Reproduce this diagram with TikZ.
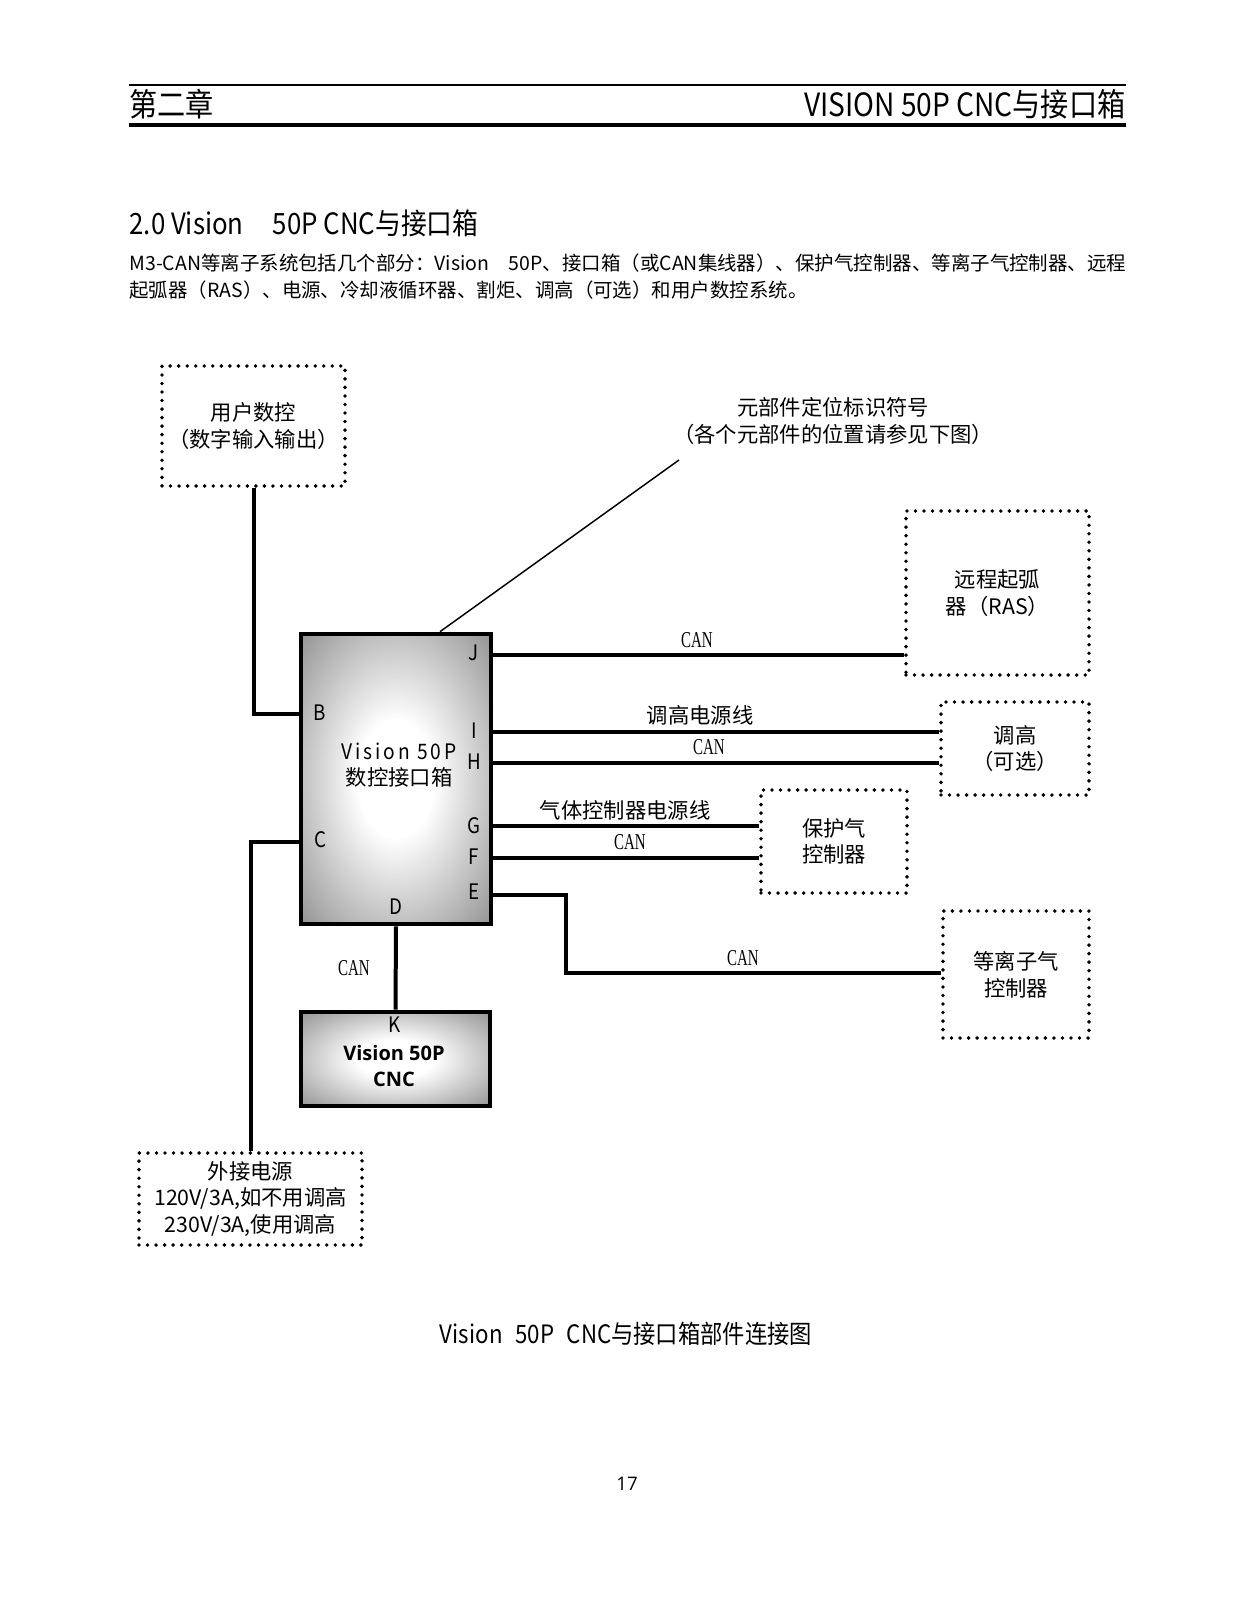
\documentclass[tikz,border=0pt]{standalone}
\usepackage{fontspec}
\setmainfont{Noto Sans CJK SC}
\newfontfamily\condf[FakeStretch=0.88]{Noto Sans CJK SC}
\newfontfamily\trackf[FakeStretch=0.9,LetterSpace=14]{Noto Sans CJK SC}
\newfontfamily\serifc[FakeStretch=0.66]{Liberation Serif}
\newfontfamily\boldsans{Open Sans}
\pgfdeclareradialshading{boxglow}{\pgfpoint{0bp}{0bp}}{color(0bp)=(white); color(10bp)=(white); color(50bp)=(black!66); color(71bp)=(black!95)}

\tikzset{every picture/.style={line width=0.75pt}}
\tikzset{
  wire/.style={line width=3pt},
  leader/.style={line width=1.1pt},
  dotbox/.style={draw, line width=2.9pt, line cap=round, dash pattern=on 0pt off 6.4pt, align=center, inner sep=0pt, font=\fontsize{16}{20}\selectfont},
  unitbox/.style={draw, line width=3.5pt, shade, shading=boxglow, inner sep=0pt},
  port/.style={inner sep=0.75pt, font=\condf\fontsize{16}{18}\selectfont},
  canlbl/.style={inner sep=0.75pt, font=\serifc\fontsize{17}{20}\selectfont},
  wirelbl/.style={inner sep=0.75pt, font=\fontsize{16}{20}\selectfont},
}

\begin{document}
\begin{tikzpicture}[x=0.75pt,y=0.75pt,yscale=-1,xscale=1]
\useasboundingbox (0,0) rectangle (1237,1600);
% Page head
\draw[line width=2pt] (129,85) -- (1126,85) ;
\draw[line width=2.4pt] (129,125) -- (1126,125) ;
\node (chap) [anchor=west, inner sep=0pt, font=\condf\fontsize{24}{26}\selectfont] at (129,104) {第二章};
\node (head) [anchor=east, inner sep=0pt, font=\condf\fontsize{24}{26}\selectfont] at (1126,104) {VISION 50P CNC与接口箱};
% Section text
\node (sect) [anchor=west, inner sep=0pt, font=\condf\fontsize{22}{24}\selectfont] at (129,223) {2.0 Vision\quad 50P CNC与接口箱};
\node (para1) [anchor=west, inner sep=0pt, font=\fontsize{14.6}{18}\selectfont] at (129,263) {M3-CAN等离子系统包括几个部分：Vision\quad 50P、接口箱（或CAN集线器）、保护气控制器、等离子气控制器、远程};
\node (para2) [anchor=west, inner sep=0pt, font=\fontsize{14.6}{18}\selectfont] at (129,290) {起弧器（RAS）、电源、冷却液循环器、割炬、调高（可选）和用户数控系统。};

%Shape: Interface box
\node (ibox) [unitbox, minimum width=142.5pt, minimum height=217.5pt] at (396,779) {};
%Shape: CNC box
\node (cnc) [unitbox, minimum width=141.75pt, minimum height=70.5pt] at (395.5,1059) {};
%Shape: Dotted boxes
\node (ucnc) [dotbox, minimum width=137.25pt, minimum height=90pt] at (253.5,426) {用户数控\\（数字输入输出）};
\node (ras) [dotbox, minimum width=137.25pt, minimum height=123pt] at (997.5,593) {远程起弧\\器（RAS）};
\node (thc) [dotbox, minimum width=111pt, minimum height=69.75pt] at (1015,748.5) {调高\\（可选）};
\node (sgc) [dotbox, minimum width=109.5pt, minimum height=77.25pt] at (834,841.5) {保护气\\控制器};
\node (pgc) [dotbox, minimum width=109.5pt, minimum height=95.25pt] at (1016,974.5) {等离子气\\控制器};
\node (pwr) [dotbox, minimum width=167.25pt, minimum height=69pt] at (250.5,1199) {外接电源\\120V/3A,如不用调高\\230V/3A,使用调高};

% Text Node
\node (ititle) [inner sep=0.75pt, align=center, font=\fontsize{16}{20}\selectfont] at (399,765) {{\trackf Vision 50P}\\数控接口箱};
% Text Node
\node (ctitle) [inner sep=0.75pt, align=center, font=\boldsans\bfseries\fontsize{15}{20}\selectfont] at (394,1066) {Vision 50P\\CNC};
% Text Node
\node (lJ) [port] at (474,653) {J};
\node (lI) [port] at (474,731) {I};
\node (lH) [port] at (474,762) {H};
\node (lG) [port] at (474,826) {G};
\node (lF) [port] at (474,857) {F};
\node (lE) [port] at (474,892) {E};
\node (lB) [port] at (320,713) {B};
\node (lC) [port] at (320,840) {C};
\node (lD) [port] at (396,907) {D};
\node (lK) [port] at (395,1025) {K};

% Ports
\coordinate (pJ) at (ibox.east |- 0,655);
\coordinate (pI) at (ibox.east |- 0,732);
\coordinate (pH) at (ibox.east |- 0,763);
\coordinate (pG) at (ibox.east |- 0,826);
\coordinate (pF) at (ibox.east |- 0,858);
\coordinate (pE) at (ibox.east |- 0,895);
\coordinate (pB) at (ibox.west |- 0,714);
\coordinate (pC) at (ibox.west |- 0,842);
\coordinate (eBend) at (566,973);
\coordinate (ldr) at (679,460);

%Straight Lines
\draw[wire] (ucnc.south) |- (pB) ;
\draw[wire] (pC) -| (pwr.north) ;
\draw[wire] (pJ) -- (ras.west |- pJ) ;
\draw[wire] (pI) -- (thc.west |- pI) ;
\draw[wire] (pH) -- (thc.west |- pH) ;
\draw[wire] (pG) -- (sgc.west |- pG) ;
\draw[wire] (pF) -- (sgc.west |- pF) ;
\draw[wire] (pE) -| (eBend) -- (pgc.west |- eBend) ;
\draw[wire] (ibox.south) -- (cnc.north) ;
\draw[leader] (ibox.north) ++(44,0) -- (ldr) ;

% Text Node
\node (cJ) [canlbl] at (697,640) {CAN};
\node (wI) [wirelbl] at (700,715) {调高电源线};
\node (cH) [canlbl] at (709,747) {CAN};
\node (wG) [wirelbl] at (625,810) {气体控制器电源线};
\node (cF) [canlbl] at (630,842) {CAN};
\node (cE) [canlbl] at (743,958) {CAN};
\node (cD) [canlbl] at (354,968) {CAN};
\node (ldrtxt) [inner sep=0.75pt, align=center, font=\fontsize{16}{20}\selectfont] at (833,421) {元部件定位标识符号\\（各个元部件的位置请参见下图）};

% Caption
\node (cap) [inner sep=0pt, font=\condf\fontsize{19}{22}\selectfont] at (626,1334) {Vision\enspace 50P\enspace CNC与接口箱部件连接图};
\node (pgno) [inner sep=0pt, font=\boldsans\fontsize{14}{16}\selectfont] at (627,1484) {17};
\end{tikzpicture}
\end{document}
